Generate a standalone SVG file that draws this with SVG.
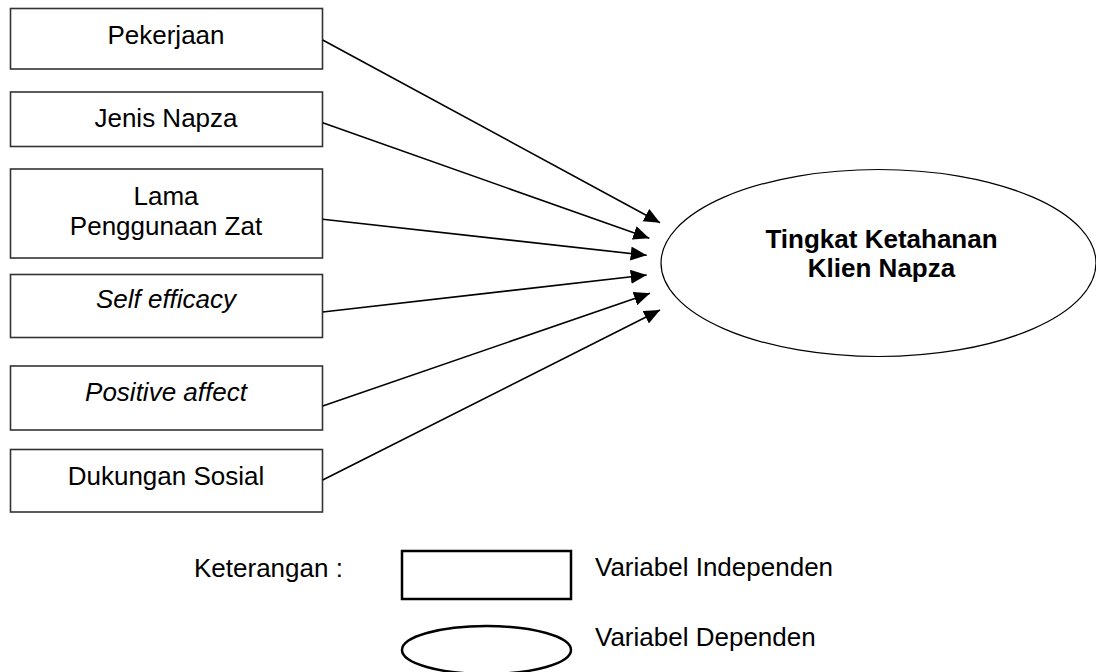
<svg xmlns="http://www.w3.org/2000/svg" width="1096" height="672" viewBox="0 0 1096 672">
<defs>
<style>
.box{fill:#fff;stroke:#333;stroke-width:1.6}
.t{font-family:"Liberation Sans",Arial,sans-serif;font-size:26px;fill:#000;text-anchor:middle}
.i{font-style:italic}
.b{font-weight:bold}
.lg{font-family:"Liberation Sans",Arial,sans-serif;font-size:26px;fill:#000}
.con{stroke:#000;stroke-width:1.6;fill:none;marker-end:url(#ah)}
</style>
<marker id="ah" markerUnits="userSpaceOnUse" markerWidth="18" markerHeight="16" refX="16" refY="7" orient="auto">
<path d="M0,0 L16,7 L0,14 Z" fill="#000"/>
</marker>
</defs>
<rect width="1096" height="672" fill="#fff"/>
<g id="n1"><rect class="box" x="10.5" y="8.5" width="312" height="60.5"/><text class="t" x="166" y="43.5">Pekerjaan</text></g>
<g id="n2"><rect class="box" x="10.5" y="92" width="312" height="54.5"/><text class="t" x="166" y="126.7">Jenis Napza</text></g>
<g id="n3"><rect class="box" x="10.5" y="169" width="312" height="89"/><text class="t" x="166" y="205">Lama</text><text class="t" x="166" y="235">Penggunaan Zat</text></g>
<g id="n4"><rect class="box" x="10.5" y="274.5" width="312" height="63"/><text class="t i" x="166" y="308.3">Self efficacy</text></g>
<g id="n5"><rect class="box" x="10.5" y="366" width="312" height="64"/><text class="t i" x="166" y="400.7">Positive affect</text></g>
<g id="n6"><rect class="box" x="10.5" y="449.5" width="312" height="62.5"/><text class="t" x="166" y="485">Dukungan Sosial</text></g>
<g id="dep"><ellipse cx="878.5" cy="263" rx="217.5" ry="93.5" fill="#fff" stroke="#000" stroke-width="1.2"/><text class="t b" x="881.5" y="248.3">Tingkat Ketahanan</text><text class="t b" x="881.5" y="277.3">Klien Napza</text></g>
<g id="connectors">
<line class="con" x1="322.7" y1="40" x2="660" y2="222.7"/>
<line class="con" x1="322.7" y1="122.7" x2="649.3" y2="238.3"/>
<line class="con" x1="322.7" y1="219.3" x2="646.7" y2="255.3"/>
<line class="con" x1="322.7" y1="312" x2="646.7" y2="275"/>
<line class="con" x1="322.7" y1="406" x2="650" y2="293.3"/>
<line class="con" x1="322.7" y1="480" x2="660" y2="310"/>
</g>
<g id="legend">
<text class="lg" x="194" y="576.7">Keterangan :</text>
<rect x="402" y="551" width="169" height="48" fill="#fff" stroke="#000" stroke-width="2.5"/>
<text class="lg" x="595" y="575.7">Variabel Independen</text>
<ellipse cx="486.5" cy="650" rx="84.5" ry="24" fill="#fff" stroke="#000" stroke-width="2.5"/>
<text class="lg" x="595" y="646">Variabel Dependen</text>
</g>
</svg>
